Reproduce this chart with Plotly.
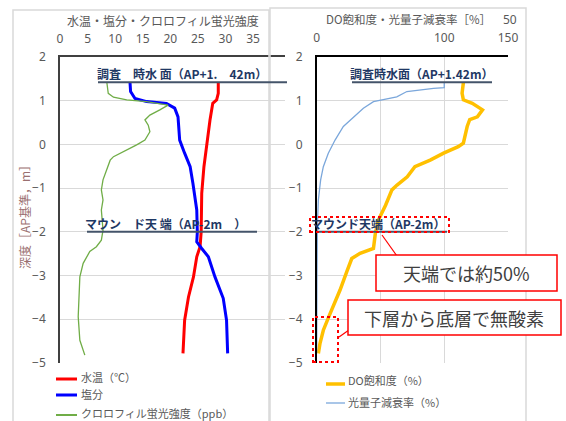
import plotly.graph_objects as go

# ---------------- data ----------------
depth_temp = [1.41, 1.17, 1.02, 0.94, 0.56, 0.03, -0.51, -1.12, -2.0, -2.34, -2.57, -3.03, -3.49, -4.02, -4.78]
temp = [28.7, 28.7, 28.4, 27.7, 27.2, 26.6, 26.1, 25.7, 25.6, 25.4, 24.8, 24.2, 23.3, 22.6, 22.3]

depth_sal = [1.41, 1.21, 1.05, 0.98, 0.94, 0.83, 0.63, 0.10, -0.20, -0.51, -0.89, -1.50, -2.01,
             -2.23, -2.38, -2.57, -3.03, -3.52, -4.02, -4.78]
sal = [12.7, 12.8, 13.6, 15.7, 19.3, 20.8, 21.4, 21.7, 22.6, 23.6, 24.1, 24.8, 24.9,
       24.8, 25.7, 26.9, 28.1, 29.6, 30.2, 30.4]

depth_chl = [1.41, 1.17, 1.08, 1.02, 0.98, 0.90, 0.79, 0.67, 0.56, 0.44, 0.29, 0.10, -0.01, -0.13,
             -0.28, -0.36, -0.59, -0.81, -1.04, -1.27, -1.50, -1.73, -1.96, -2.19, -2.34, -2.45,
             -2.72, -3.03, -3.49, -3.94, -4.48, -4.82]
chl = [8.5, 8.75, 9.7, 12.1, 15.7, 19.6, 18.1, 16.3, 15.4, 16.0, 16.3, 15.4, 13.9, 12.1,
       9.7, 9.1, 8.5, 7.8, 7.5, 7.8, 7.5, 7.7, 7.8, 7.5, 6.6, 5.4,
       4.2, 3.6, 3.4, 3.3, 3.6, 4.5]

depth_do = [1.41, 1.17, 1.02, 0.94, 0.79, 0.63, 0.57, 0.41, 0.03, -0.05, -0.20, -0.36, -0.51, -0.74,
            -0.93, -1.04, -1.39, -1.73, -2.03, -2.38, -2.49, -2.61, -2.91, -3.33, -3.87, -4.25,
            -4.55, -4.78]
do_sat = [115, 114, 115, 122, 130, 126, 120, 118, 115, 111, 99.5, 89, 77, 71,
          63, 59, 54, 48.4, 46, 44.5, 34, 27.5, 23.6, 18.3, 10.5, 5.2,
          2.6, 1.3]

depth_par = [1.42, 1.30, 1.28, 1.21, 1.09, 1.03, 0.98, 0.83, 0.63, 0.41, 0.10, -0.20, -0.51,
             -0.81, -1.27, -1.88, -3.0, -4.78]
par = [100, 100, 91.6, 70.7, 62.8, 52.3, 44.5, 36.6, 28.8, 20.9, 14.4, 9.1, 5.2,
       3.1, 1.3, 0.5, 0.2, 0]

left_names = ["水温（℃）", "塩分", "クロロフィル蛍光強度（ppb）"]
right_names = ["DO飽和度（%）", "光量子減衰率（%）"]

left_ticks = [0, 5, 10, 15, 20, 25, 30, 35]
right_ticks = [0, 50, 100, 150]
right_ticktext = ["0", "", "100", "150"]
depth_ticks = [-5, -4, -3, -2, -1, 0, 1, 2]

surface_level = 1.42
mound_level = -2.0

# ---------------- layout helpers ----------------
W, H = 566, 421


def fx(p):
    return p / W


def fy(p):
    return 1 - p / H


JP = "Noto Sans CJK JP"
NUM = "Noto Sans"
GRID = "#d9d9d9"
TXT = "#595959"
NAVY = "#1F3864"
REFLINE = "#44546A"

left_styles = [dict(color="#FF0000", width=3), dict(color="#0000FF", width=3), dict(color="#70AD47", width=1.3)]
right_styles = [dict(color="#FFC000", width=3.5), dict(color="#7BA7DB", width=1.3)]

fig = go.Figure()

for xs, ys, name, st in zip([temp, sal, chl], [depth_temp, depth_sal, depth_chl], left_names, left_styles):
    fig.add_trace(go.Scatter(x=xs, y=ys, mode="lines", name=name, line=st, xaxis="x", yaxis="y",
                             showlegend=False))
for xs, ys, name, st in zip([do_sat, par], [depth_do, depth_par], right_names, right_styles):
    fig.add_trace(go.Scatter(x=xs, y=ys, mode="lines", name=name, line=st, xaxis="x2", yaxis="y2",
                             showlegend=False))

dom_y = [fy(363), fy(57)]
tickfont = dict(family=NUM, size=12, color=TXT)

fig.update_layout(
    width=W, height=H, margin=dict(l=0, r=0, t=0, b=0, autoexpand=False),
    paper_bgcolor="white", plot_bgcolor="white",
    font=dict(family=JP, color=TXT),
    showlegend=False,
    xaxis=dict(domain=[fx(60), fx(285)], range=[0, 40.8], side="top", anchor="y",
               tickvals=left_ticks, showgrid=False, zeroline=False, ticks="",
               showline=True, linecolor="#404040", linewidth=1.5, tickfont=tickfont,
               ticklabelstandoff=7),
    xaxis3=dict(overlaying="x", anchor="y", range=[0.21, 6.79], dtick=1, tick0=0,
                showgrid=True, gridcolor=GRID, gridwidth=1, showticklabels=False,
                zeroline=False, ticks="", showline=False),
    yaxis=dict(domain=dom_y, range=[-5, 2], anchor="x", tickvals=depth_ticks,
               showgrid=True, gridcolor=GRID, zeroline=False, ticks="",
               showline=True, linecolor="#404040", linewidth=1.5, tickfont=tickfont,
               ticklabelstandoff=10),
    xaxis2=dict(domain=[fx(316.7), fx(508)], range=[0, 150], side="top", anchor="y2",
                tickvals=right_ticks, ticktext=right_ticktext, showgrid=True, gridcolor=GRID,
                zeroline=False, ticks="", showline=True, linecolor="#000000", linewidth=1.5,
                tickfont=tickfont, ticklabelstandoff=8),
    yaxis2=dict(domain=dom_y, range=[-5, 2], anchor="x2", tickvals=depth_ticks,
                showgrid=True, gridcolor=GRID, zeroline=False, ticks="",
                showline=True, linecolor="#000000", linewidth=1.5, tickfont=tickfont,
                ticklabelstandoff=10),
)

shapes = []
annos = []

# panel frames
shapes.append(dict(type="rect", xref="paper", yref="paper", x0=fx(13), x1=fx(269), y0=fy(440), y1=fy(10),
                   line=dict(color="#d9d9d9", width=1.5), layer="above"))
shapes.append(dict(type="rect", xref="paper", yref="paper", x0=fx(270), x1=fx(526), y0=fy(440), y1=fy(8),
                   line=dict(color="#d9d9d9", width=1.5), layer="above"))

# reference lines
for x0, x1, yv, yr in [(98, 287, surface_level, "y"), (87, 257, mound_level, "y"),
                       (352, 492, surface_level, "y2"), (316.7, 447, mound_level, "y2")]:
    shapes.append(dict(type="line", xref="paper", yref=yr, x0=fx(x0), x1=fx(x1), y0=yv, y1=yv,
                       line=dict(color=REFLINE, width=2)))

reflabel_font = dict(family=JP, size=12, color=NAVY)
for txt, xc, yv, yr in [("調査　時水 面（AP+1.　42m）", 182, surface_level, "y"),
                        ("マウン　ド天 端（AP-2m　）", 166, mound_level, "y"),
                        ("調査時水面（AP+1.42m）", 422, surface_level, "y2"),
                        ("マウンド天端（AP-2m）", 378, mound_level, "y2")]:
    annos.append(dict(text="<b>" + txt + "</b>", xref="paper", yref=yr, x=fx(xc), y=yv,
                      xanchor="center", yanchor="bottom", yshift=-2, showarrow=False, font=reflabel_font))

# titles
annos.append(dict(text="水温・塩分・クロロフィル蛍光強度", xref="paper", yref="paper", x=fx(163), y=fy(21),
                  xanchor="center", yanchor="middle", showarrow=False, borderpad=0,
                  font=dict(family=JP, size=12, color=TXT)))
annos.append(dict(text="DO飽和度・光量子減衰率［%］", xref="paper", yref="paper", x=fx(408), y=fy(19),
                  xanchor="center", yanchor="middle", showarrow=False, borderpad=0,
                  font=dict(family=JP, size=11.5, color=TXT)))
annos.append(dict(text="50", xref="paper", yref="paper", x=fx(510), y=fy(19),
                  xanchor="center", yanchor="middle", showarrow=False, borderpad=0,
                  font=dict(family=NUM, size=12, color=TXT)))
annos.append(dict(text="深度［AP基準，m］", xref="paper", yref="paper", x=fx(24), y=fy(214),
                  xanchor="center", yanchor="middle", textangle=-90, showarrow=False,
                  font=dict(family=JP, size=12, color="#9a7070")))

# legends (drawn as swatch + label)
for name, st, ly, ty in zip(left_names, left_styles, [379, 395, 415], [377, 394, 413]):
    shapes.append(dict(type="line", xref="paper", yref="paper", x0=fx(56), x1=fx(77), y0=fy(ly), y1=fy(ly),
                       line=dict(color=st["color"], width=max(st["width"], 2))))
    annos.append(dict(text=name, xref="paper", yref="paper", x=fx(80), y=fy(ty), xanchor="left",
                      yanchor="middle", showarrow=False, borderpad=0, font=dict(family=JP, size=11, color=TXT)))
for name, st, ly, ty in zip(right_names, right_styles, [384, 403], [380, 402]):
    shapes.append(dict(type="line", xref="paper", yref="paper", x0=fx(326), x1=fx(345), y0=fy(ly), y1=fy(ly),
                       line=dict(color=st["color"], width=st["width"])))
    annos.append(dict(text=name, xref="paper", yref="paper", x=fx(347), y=fy(ty), xanchor="left",
                      yanchor="middle", showarrow=False, borderpad=0, font=dict(family=JP, size=11, color=TXT)))

# dotted highlight rectangles
shapes.append(dict(type="rect", xref="paper", yref="paper", x0=fx(310), x1=fx(449), y0=fy(232), y1=fy(217),
                   line=dict(color="#FF0000", width=2, dash="dot")))
shapes.append(dict(type="rect", xref="paper", yref="paper", x0=fx(313), x1=fx(338), y0=fy(362), y1=fy(317),
                   line=dict(color="#FF0000", width=2, dash="dot")))

# callout boxes
shapes.append(dict(type="line", xref="paper", yref="paper", x0=fx(382), y0=fy(235), x1=fx(397), y1=fy(256),
                   line=dict(color="#FF0000", width=1.2)))
shapes.append(dict(type="line", xref="paper", yref="paper", x0=fx(349), y0=fy(330), x1=fx(339), y1=fy(337),
                   line=dict(color="#FF0000", width=1.2)))
shapes.append(dict(type="rect", xref="paper", yref="paper", x0=fx(376), x1=fx(557), y0=fy(291), y1=fy(255),
                   line=dict(color="#FF0000", width=1.5), fillcolor="white", layer="above"))
shapes.append(dict(type="rect", xref="paper", yref="paper", x0=fx(348), x1=fx(561), y0=fy(335), y1=fy(300),
                   line=dict(color="#FF0000", width=1.5), fillcolor="white", layer="above"))
annos.append(dict(text="天端では約50%", xref="paper", yref="paper", x=fx(466), y=fy(273),
                  xanchor="center", yanchor="middle", showarrow=False, font=dict(family=JP, size=18, color="#404040")))
annos.append(dict(text="下層から底層で無酸素", xref="paper", yref="paper", x=fx(454), y=fy(317.5),
                  xanchor="center", yanchor="middle", showarrow=False, font=dict(family=JP, size=18, color="#404040")))

fig.update_layout(shapes=shapes, annotations=annos)

fig.write_html("out.html")
